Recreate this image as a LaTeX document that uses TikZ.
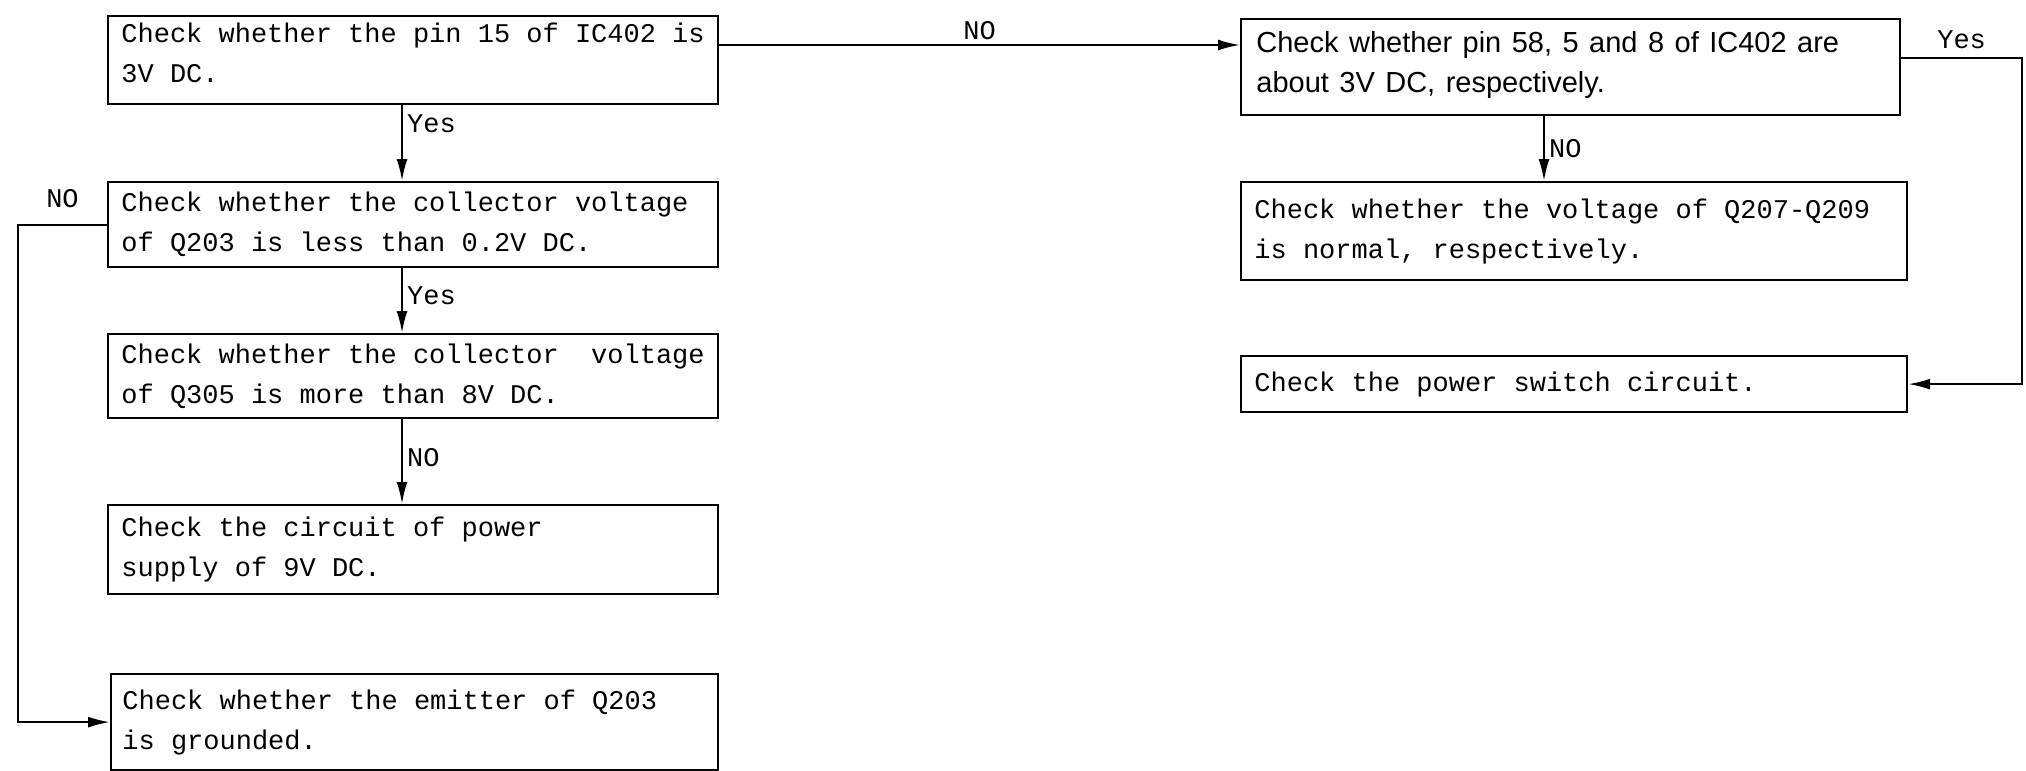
\documentclass[tikz,border=0pt]{standalone}
\usepackage{fontspec}
\usetikzlibrary{arrows.meta}
\newfontfamily\monof{Liberation Mono}
\newfontfamily\sansf[WordSpace={1.3,0,0}]{Liberation Sans}
\newcommand{\monosize}{\monof\fontsize{13.5}{20}\selectfont}
\begin{document}
\begin{tikzpicture}[x=1pt,y=-1pt,
  box/.style={draw,line width=1.1pt,rectangle,anchor=north west,inner sep=0pt},
  txt/.style={anchor=west,xshift=7pt,align=left,inner sep=0pt,font=\monosize},
  stxt/.style={anchor=west,xshift=8pt,align=left,inner sep=0pt,font=\sansf\fontsize{14.5}{20}\selectfont},
  arr/.style={line width=1.1pt,-{Latex[length=11pt,width=5.5pt]}},
  lbl/.style={font=\monof\fontsize{13.5}{14}\selectfont,inner sep=2pt}]
\useasboundingbox (0,0) rectangle (1013,385.5);
\node[box,minimum width=305pt,minimum height=44pt,
  label={[txt,yshift=3.5pt]west:{Check whether the pin 15 of IC402 is\\3V DC.}}] (A) at (53.5,7.5) {};
\node[box,minimum width=305pt,minimum height=42.5pt,
  label={[txt]west:{Check whether the collector voltage\\of Q203 is less than 0.2V DC.}}] (B) at (53.5,90.5) {};
\node[box,minimum width=305pt,minimum height=42pt,
  label={[txt]west:{Check whether the collector~ voltage\\of Q305 is more than 8V DC.}}] (C) at (53.5,166.5) {};
\node[box,minimum width=305pt,minimum height=44.5pt,
  label={[txt]west:{Check the circuit of power\\supply of 9V DC.}}] (D) at (53.5,252) {};
\node[box,minimum width=303.5pt,minimum height=48pt,
  label={[txt,xshift=-1pt]west:{Check whether the emitter of Q203\\is grounded.}}] (E) at (55,336.5) {};
\node[box,minimum width=329.5pt,minimum height=48pt,
  label={[stxt,yshift=1pt]west:{Check whether pin 58, 5 and 8 of IC402 are\\about 3V DC, respectively.}}] (F) at (620,9) {};
\node[box,minimum width=333pt,minimum height=49pt,
  label={[txt]west:{Check whether the voltage of Q207-Q209\\is normal, respectively.}}] (G) at (620,90.5) {};
\node[box,minimum width=333pt,minimum height=28pt,
  label={[txt]west:{Check the power switch circuit.}}] (H) at (620,177.5) {};
\coordinate (MX) at (201,0);
\coordinate (LX) at (9,0);
\coordinate (FX) at (772,0);
\coordinate (RX) at (1011,0);
\coordinate (TY) at (0,22.5);
\coordinate (YY) at (0,29);
\draw[arr] (A.east |- TY) -- (F.west |- TY) node[lbl,midway,above] {NO};
\draw[arr] (A.south -| MX) -- (B.north -| MX) node[lbl,pos=0.25,right] {Yes};
\draw[arr] (B.south -| MX) -- (C.north -| MX) node[lbl,pos=0.43,right] {Yes};
\draw[arr] (C.south -| MX) -- (D.north -| MX) node[lbl,pos=0.45,right] {NO};
\draw[arr] (B.west) -- (B.west -| LX) node[lbl,midway,above,yshift=6pt] {NO} |- (E.west);
\draw[arr] (F.south -| FX) -- (G.north -| FX) node[lbl,midway,right] {NO};
\draw[arr] (F.east |- YY) -- (YY -| RX) node[lbl,midway,above,yshift=2pt] {Yes} |- (H.east);
\end{tikzpicture}
\end{document}
